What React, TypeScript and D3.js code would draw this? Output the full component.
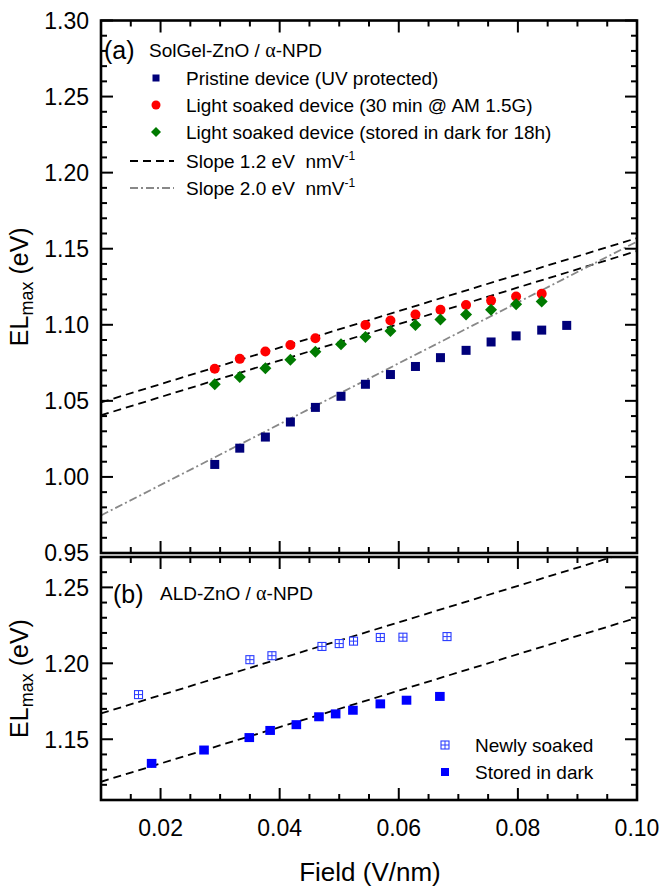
import React from 'react';
import * as d3 from 'd3';

// Panel (a) data
const pristineX = [0.0291, 0.0333, 0.0376, 0.0418, 0.0460, 0.0503, 0.0544, 0.0586, 0.0628, 0.0670, 0.0713, 0.0755, 0.0797, 0.0840, 0.0882];
const pristineY = [1.0082, 1.0189, 1.0262, 1.0361, 1.0457, 1.0530, 1.0609, 1.0673, 1.0726, 1.0784, 1.0832, 1.0887, 1.0927, 1.0965, 1.0996];
const soakedX = [0.0291, 0.0333, 0.0376, 0.0418, 0.0460, 0.0544, 0.0586, 0.0628, 0.0670, 0.0713, 0.0755, 0.0797, 0.0840];
const soakedY = [1.0711, 1.0776, 1.0824, 1.0867, 1.0912, 1.0999, 1.1028, 1.1068, 1.1099, 1.1130, 1.1159, 1.1186, 1.1204];
const darkX = [0.0291, 0.0333, 0.0376, 0.0418, 0.0460, 0.0503, 0.0544, 0.0586, 0.0628, 0.0670, 0.0713, 0.0755, 0.0797, 0.0840];
const darkY = [1.0609, 1.0657, 1.0715, 1.0771, 1.0822, 1.0872, 1.0920, 1.0959, 1.0999, 1.1034, 1.1068, 1.1099, 1.1135, 1.1153];

// Panel (b) data
const newlyX = [0.0163, 0.0350, 0.0387, 0.0471, 0.0500, 0.0524, 0.0569, 0.0607, 0.0681];
const newlyY = [1.1794, 1.2024, 1.2050, 1.2111, 1.2130, 1.2146, 1.2170, 1.2172, 1.2176];
const storedX = [0.0185, 0.0273, 0.0349, 0.0384, 0.0428, 0.0466, 0.0494, 0.0523, 0.0569, 0.0613, 0.0669];
const storedY = [1.1341, 1.1429, 1.1511, 1.1558, 1.1596, 1.1648, 1.1667, 1.1691, 1.1733, 1.1757, 1.1782];

// Fit lines: slope (eV nm/V) and intercept
const dashSlopesA = [1.2, 1.2];
const dashInterceptsA = [1.037, 1.0285];
const graySlopeA = 2.0;
const grayInterceptA = 0.9547;
const dashSlopesB = [1.2, 1.2];
const dashInterceptsB = [1.155, 1.110];

// Ticks
const xTicks = [0.02, 0.04, 0.06, 0.08, 0.10];
const yTicksA = [0.95, 1.00, 1.05, 1.10, 1.15, 1.20, 1.25, 1.30];
const yTicksB = [1.15, 1.20, 1.25];

const FONT = '"Liberation Sans", Arial, Helvetica, sans-serif';
const SERIF = '"Liberation Serif", "Times New Roman", serif';

const X0 = 101, X1 = 637;
const A_TOP = 20.5, A_BOT = 553;
const B_TOP = 557, B_BOT = 800;

export default function App() {
  const x = d3.scaleLinear().domain([0.01, 0.10]).range([X0, X1]);
  const yA = d3.scaleLinear().domain([0.95, 1.30]).range([A_BOT, A_TOP]);
  const yB = d3.scaleLinear().domain([1.11, 1.27]).range([B_BOT, B_TOP]);

  const xMinor = d3.range(0, 19).map((i) => 0.01 + i * 0.005);
  const yMinorA = d3.range(0, 36).map((i) => 0.95 + i * 0.01);
  const yMinorB = d3.range(0, 17).map((i) => 1.11 + i * 0.01);

  const isMajor = (v: number, list: number[]) => list.some((t) => Math.abs(t - v) < 1e-6);

  const lineGen = (ys: d3.ScaleLinear<number, number>) =>
    (slope: number, c: number) =>
      d3.line<number>().x((d) => x(d)).y((d) => ys(slope * d + c))([0.01, 0.10]) as string;

  const frame = (top: number, bot: number, ys: d3.ScaleLinear<number, number>, yMinor: number[], yMajor: number[], key: string) => {
    const els: React.ReactNode[] = [];
    xMinor.forEach((v, i) => {
      const len = isMajor(v, xTicks) ? 12 : 6;
      els.push(<line key={`${key}xb${i}`} x1={x(v)} x2={x(v)} y1={bot} y2={bot - len} stroke="#000" strokeWidth={2} />);
      els.push(<line key={`${key}xt${i}`} x1={x(v)} x2={x(v)} y1={top} y2={top + len} stroke="#000" strokeWidth={2} />);
    });
    yMinor.forEach((v, i) => {
      const len = isMajor(v, yMajor) ? 12 : 6;
      els.push(<line key={`${key}yl${i}`} x1={X0} x2={X0 + len} y1={ys(v)} y2={ys(v)} stroke="#000" strokeWidth={2} />);
      els.push(<line key={`${key}yr${i}`} x1={X1} x2={X1 - len} y1={ys(v)} y2={ys(v)} stroke="#000" strokeWidth={2} />);
    });
    els.push(<rect key={`${key}frame`} x={X0} y={top} width={X1 - X0} height={bot - top} fill="none" stroke="#000" strokeWidth={2.6} />);
    return els;
  };

  const lineA = lineGen(yA);
  const lineB = lineGen(yB);

  const diamond = (cx: number, cy: number, r: number) => `M${cx},${cy - r}L${cx + r},${cy}L${cx},${cy + r}L${cx - r},${cy}Z`;

  const hollowSq = (cx: number, cy: number, s: number, key: string) => (
    <g key={key}>
      <rect x={cx - s / 2} y={cy - s / 2} width={s} height={s} fill="#fff" stroke="#2a3cff" strokeWidth={1.1} />
      <line x1={cx} x2={cx} y1={cy - s / 2} y2={cy + s / 2} stroke="#2a3cff" strokeWidth={1} />
      <line x1={cx - s / 2} x2={cx + s / 2} y1={cy} y2={cy} stroke="#2a3cff" strokeWidth={1} />
    </g>
  );

  const legTextA = 19;
  const legRowsA = [78, 105, 132, 161, 188];

  return (
    <svg width={661} height={888} style={{ position: 'absolute', left: 0, top: 0, background: '#fff' }} fontFamily={FONT}>
      <defs>
        <clipPath id="clipA"><rect x={X0} y={A_TOP} width={X1 - X0} height={A_BOT - A_TOP} /></clipPath>
        <clipPath id="clipB"><rect x={X0} y={B_TOP} width={X1 - X0} height={B_BOT - B_TOP} /></clipPath>
      </defs>
      <rect x={0} y={0} width={661} height={888} fill="#fff" />

      {/* Panel (a) lines */}
      <g clipPath="url(#clipA)">
        {dashSlopesA.map((s, i) => (
          <path key={`da${i}`} d={lineA(s, dashInterceptsA[i])} fill="none" stroke="#000" strokeWidth={1.8} strokeDasharray="8,5" />
        ))}
        <path d={lineA(graySlopeA, grayInterceptA)} fill="none" stroke="#888" strokeWidth={1.8} strokeDasharray="8,3,2,3" />
      </g>

      {/* Panel (a) markers */}
      {pristineX.map((v, i) => (
        <rect key={`p${i}`} x={x(v) - 4.5} y={yA(pristineY[i]) - 4.5} width={9} height={9} fill="#00007a" />
      ))}
      {soakedX.map((v, i) => (
        <circle key={`s${i}`} cx={x(v)} cy={yA(soakedY[i])} r={5} fill="#ff0000" />
      ))}
      {darkX.map((v, i) => (
        <path key={`d${i}`} d={diamond(x(v), yA(darkY[i]), 6)} fill="#007a00" />
      ))}

      {frame(A_TOP, A_BOT, yA, yMinorA, yTicksA, 'a')}

      {/* Panel (b) lines */}
      <g clipPath="url(#clipB)">
        {dashSlopesB.map((s, i) => (
          <path key={`db${i}`} d={lineB(s, dashInterceptsB[i])} fill="none" stroke="#000" strokeWidth={1.8} strokeDasharray="8,5" />
        ))}
      </g>
      {newlyX.map((v, i) => hollowSq(x(v), yB(newlyY[i]), 8, `n${i}`))}
      {storedX.map((v, i) => (
        <rect key={`st${i}`} x={x(v) - 4.8} y={yB(storedY[i]) - 4.5} width={9.6} height={9} fill="#0000ff" />
      ))}

      {frame(B_TOP, B_BOT, yB, yMinorB, yTicksB, 'b')}

      {/* Y tick labels */}
      {yTicksA.map((v) => (
        <text key={`yla${v}`} x={89} y={yA(v)} dy="0.36em" textAnchor="end" fontSize={23}>{v.toFixed(2)}</text>
      ))}
      {yTicksB.map((v) => (
        <text key={`ylb${v}`} x={89} y={yB(v)} dy="0.36em" textAnchor="end" fontSize={23}>{v.toFixed(2)}</text>
      ))}
      {/* X tick labels */}
      {xTicks.map((v) => (
        <text key={`xl${v}`} x={x(v)} y={828} dy="0.36em" textAnchor="middle" fontSize={23}>{v.toFixed(2)}</text>
      ))}

      {/* Axis titles */}
      <text x={370} y={872} dy="0.36em" textAnchor="middle" fontSize={26}>Field (V/nm)</text>
      <text transform={`translate(28, ${(A_TOP + A_BOT) / 2}) rotate(-90)`} textAnchor="middle" fontSize={25}>
        EL<tspan fontSize={18} dy={5}>max</tspan><tspan dy={-5}> (eV)</tspan>
      </text>
      <text transform={`translate(28, ${(B_TOP + B_BOT) / 2}) rotate(-90)`} textAnchor="middle" fontSize={25}>
        EL<tspan fontSize={18} dy={5}>max</tspan><tspan dy={-5}> (eV)</tspan>
      </text>

      {/* Panel (a) legend */}
      <text x={104} y={50} dy="0.36em" fontSize={25}>(a)</text>
      <text x={149} y={50} dy="0.36em" fontSize={19}>SolGel-ZnO / <tspan fontFamily={SERIF} fontSize={20}>α</tspan>-NPD</text>
      <rect x={156 - 3.5} y={legRowsA[0] - 3.5} width={7} height={7} fill="#00007a" />
      <text x={186} y={legRowsA[0]} dy="0.36em" fontSize={legTextA}>Pristine device (UV protected)</text>
      <circle cx={156} cy={legRowsA[1]} r={4.5} fill="#ff0000" />
      <text x={186} y={legRowsA[1]} dy="0.36em" fontSize={legTextA}>Light soaked device (30 min @ AM 1.5G)</text>
      <path d={diamond(156, legRowsA[2], 5)} fill="#007a00" />
      <text x={186} y={legRowsA[2]} dy="0.36em" fontSize={legTextA}>Light soaked device (stored in dark for 18h)</text>
      <line x1={130} x2={174} y1={legRowsA[3]} y2={legRowsA[3]} stroke="#000" strokeWidth={1.8} strokeDasharray="8,5" />
      <text x={186} y={legRowsA[3]} dy="0.36em" fontSize={legTextA}>Slope 1.2 eV{'\u00a0\u00a0'}nmV<tspan fontSize={12} dy={-8}>-1</tspan></text>
      <line x1={130} x2={174} y1={legRowsA[4]} y2={legRowsA[4]} stroke="#888" strokeWidth={1.8} strokeDasharray="8,3,2,3" />
      <text x={186} y={legRowsA[4]} dy="0.36em" fontSize={legTextA}>Slope 2.0 eV{'\u00a0\u00a0'}nmV<tspan fontSize={12} dy={-8}>-1</tspan></text>

      {/* Panel (b) legend */}
      <text x={113} y={594} dy="0.36em" fontSize={25}>(b)</text>
      <text x={160} y={593} dy="0.36em" fontSize={19}>ALD-ZnO / <tspan fontFamily={SERIF} fontSize={20}>α</tspan>-NPD</text>
      {hollowSq(445, 745, 8, 'legn')}
      <text x={475} y={745} dy="0.36em" fontSize={legTextA}>Newly soaked</text>
      <rect x={445 - 4} y={772 - 4} width={8} height={8} fill="#0000ff" />
      <text x={475} y={772} dy="0.36em" fontSize={legTextA}>Stored in dark</text>
    </svg>
  );
}
